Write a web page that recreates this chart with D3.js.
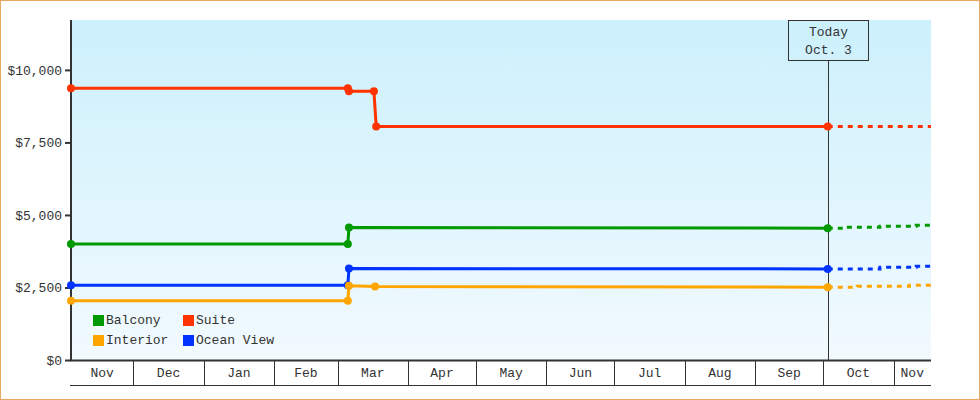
<!DOCTYPE html>
<html>
<head>
<meta charset="utf-8">
<script src="https://cdn.jsdelivr.net/npm/d3@7"></script>
<style>
  html, body { margin: 0; padding: 0; background: #fff; }
  svg { display: block; }
  text { font-family: "Liberation Mono", "DejaVu Sans Mono", monospace; font-size: 13px; fill: #333; }
</style>
</head>
<body>
<script>
// ---------- DATA ----------
const seriesNames = ["Balcony", "Suite", "Interior", "Ocean View"];
const seriesColors = ["#009900", "#ff3300", "#ffa500", "#0033ff"];

const balconyDates  = ["2022-11-03T12:00", "2023-03-05T12:00", "2023-03-06T00:00", "2023-10-03T00:00"];
const balconyPrices = [4000, 4000, 4570, 4545];
const suiteDates    = ["2022-11-03T12:00", "2023-03-05T12:00", "2023-03-06T00:00", "2023-03-17T00:00", "2023-03-18T00:00", "2023-10-03T00:00"];
const suitePrices   = [9370, 9370, 9260, 9260, 8050, 8050];
const interiorDates = ["2022-11-03T12:00", "2023-03-05T12:00", "2023-03-06T00:00", "2023-03-17T12:00", "2023-10-03T00:00"];
const interiorPrices= [2040, 2040, 2560, 2530, 2510];
const oceanDates    = ["2022-11-03T12:00", "2023-03-05T12:00", "2023-03-06T00:00", "2023-10-03T00:00"];
const oceanPrices   = [2580, 2580, 3150, 3140];

// forecast (dashed)
const balconyForecastDates  = ["2023-10-03T00:00", "2023-10-10T00:00", "2023-10-26T00:00", "2023-11-11T00:00", "2023-11-17T12:00"];
const balconyForecast       = [4545, 4575, 4610, 4645, 4645];
const suiteForecastDates    = ["2023-10-03T00:00", "2023-11-17T12:00"];
const suiteForecast         = [8050, 8050];
const interiorForecastDates = ["2023-10-03T00:00", "2023-10-16T00:00", "2023-11-08T00:00", "2023-11-17T12:00"];
const interiorForecast      = [2510, 2540, 2575, 2575];
const oceanForecastDates    = ["2023-10-03T00:00", "2023-10-26T00:00", "2023-11-11T00:00", "2023-11-17T12:00"];
const oceanForecast         = [3140, 3195, 3230, 3230];

const yTicks = [0, 2500, 5000, 7500, 10000];
const monthLabels = ["Nov", "Dec", "Jan", "Feb", "Mar", "Apr", "May", "Jun", "Jul", "Aug", "Sep", "Oct", "Nov"];
const domainStart = "2022-11-03T12:00";
const domainEnd   = "2023-11-17T12:00";
const yMax = 11720;
const todayDate = "2023-10-03T00:00";
const todayLabel = ["Today", "Oct. 3"];

// ---------- CHART ----------
const W = 980, H = 400;
const pLeft = 71, pRight = 931, pTop = 20, pBottom = 360;
const parse = d3.isoParse;

const svg = d3.select("body").append("svg").attr("width", W).attr("height", H);

svg.append("rect").attr("x", 0.5).attr("y", 0.5).attr("width", W - 1).attr("height", H - 1)
  .attr("fill", "#fff").attr("stroke", "#e8a862").attr("stroke-width", 1);

const defs = svg.append("defs");
const grad = defs.append("linearGradient").attr("id", "bg").attr("x1", 0).attr("y1", 0).attr("x2", 0).attr("y2", 1);
grad.append("stop").attr("offset", "0%").attr("stop-color", "#ccf0fc");
grad.append("stop").attr("offset", "100%").attr("stop-color", "#f2fafe");

const x = d3.scaleTime().domain([parse(domainStart), parse(domainEnd)]).range([pLeft, pRight]);
const y = d3.scaleLinear().domain([0, yMax]).range([pBottom, pTop]);

svg.append("rect").attr("x", pLeft).attr("y", pTop).attr("width", pRight - pLeft).attr("height", pBottom - pTop)
  .attr("fill", "url(#bg)");

// x axis month bands
const months = d3.timeMonth.range(d3.timeMonth.floor(parse(domainStart)), parse(domainEnd));
const monthStarts = months.slice(1);
const xa = svg.append("g");
monthStarts.forEach(m => {
  xa.append("line").attr("x1", Math.round(x(m)) + 0.5).attr("x2", Math.round(x(m)) + 0.5)
    .attr("y1", pBottom).attr("y2", 385).attr("stroke", "#333").attr("stroke-width", 1);
});
months.forEach((m, i) => {
  const a = Math.max(x(m), pLeft);
  const b = Math.min(x(d3.timeMonth.offset(m, 1)), pRight);
  xa.append("text").attr("x", (a + b) / 2).attr("y", 373).attr("text-anchor", "middle")
    .attr("dominant-baseline", "central").text(monthLabels[i]);
});
xa.append("line").attr("x1", pLeft - 1).attr("x2", pRight).attr("y1", 385.5).attr("y2", 385.5)
  .attr("stroke", "#333").attr("stroke-width", 1);

// y axis
const yAxis = d3.axisLeft(y).tickValues(yTicks).tickSize(6).tickPadding(3)
  .tickFormat(d => "$" + d3.format(",")(d));
const yg = svg.append("g").attr("transform", `translate(${pLeft},0)`).call(yAxis);
yg.select(".domain").remove();
yg.selectAll(".tick line").attr("stroke", "#333").attr("stroke-width", 2);
yg.selectAll(".tick text").attr("font-family", "Liberation Mono, DejaVu Sans Mono, monospace")
  .attr("font-size", 13).attr("fill", "#333");
svg.append("line").attr("x1", pLeft).attr("x2", pLeft).attr("y1", pTop).attr("y2", pBottom + 1)
  .attr("stroke", "#333").attr("stroke-width", 2);
svg.append("line").attr("x1", pLeft - 1).attr("x2", pRight).attr("y1", pBottom + 0.5).attr("y2", pBottom + 0.5)
  .attr("stroke", "#333").attr("stroke-width", 2);

// today marker
const tx = Math.round(x(parse(todayDate))) + 0.5;
svg.append("line").attr("x1", tx).attr("x2", tx).attr("y1", 60).attr("y2", pBottom)
  .attr("stroke", "#333").attr("stroke-width", 1);
svg.append("rect").attr("x", tx - 40).attr("y", 20.5).attr("width", 80).attr("height", 40)
  .attr("fill", "none").attr("stroke", "#333").attr("stroke-width", 1);
todayLabel.forEach((t, i) => {
  svg.append("text").attr("x", tx).attr("y", 32 + i * 18).attr("text-anchor", "middle")
    .attr("dominant-baseline", "central").text(t);
});

// series
const history = [
  [balconyDates, balconyPrices], [suiteDates, suitePrices],
  [interiorDates, interiorPrices], [oceanDates, oceanPrices]
];
const forecast = [
  [balconyForecastDates, balconyForecast], [suiteForecastDates, suiteForecast],
  [interiorForecastDates, interiorForecast], [oceanForecastDates, oceanForecast]
];
const line = d3.line().x(d => x(d[0])).y(d => y(d[1]));
const stepLine = d3.line().x(d => x(d[0])).y(d => y(d[1])).curve(d3.curveStepAfter);

const order = [1, 0, 3, 2];
order.forEach(i => {
  const fpts = forecast[i][0].map((d, j) => [parse(d), forecast[i][1][j]]);
  svg.append("path").attr("d", stepLine(fpts)).attr("fill", "none")
    .attr("stroke", seriesColors[i]).attr("stroke-width", 3).attr("stroke-dasharray", "5,5");
});
order.forEach(i => {
  const pts = history[i][0].map((d, j) => [parse(d), history[i][1][j]]);
  svg.append("path").attr("d", line(pts)).attr("fill", "none")
    .attr("stroke", seriesColors[i]).attr("stroke-width", 3).attr("stroke-linejoin", "round");
  svg.selectAll(null).data(pts).enter().append("circle")
    .attr("cx", d => x(d[0])).attr("cy", d => y(d[1])).attr("r", 4).attr("fill", seriesColors[i]);
});

// legend
const legendPos = [[93, 315], [183, 315], [93, 335], [183, 335]];
seriesNames.forEach((n, i) => {
  const [lx, ly] = legendPos[i];
  svg.append("rect").attr("x", lx).attr("y", ly).attr("width", 11).attr("height", 11).attr("fill", seriesColors[i]);
  svg.append("text").attr("x", lx + 13).attr("y", ly + 5.5).attr("dominant-baseline", "central").text(n);
});
</script>
</body>
</html>
